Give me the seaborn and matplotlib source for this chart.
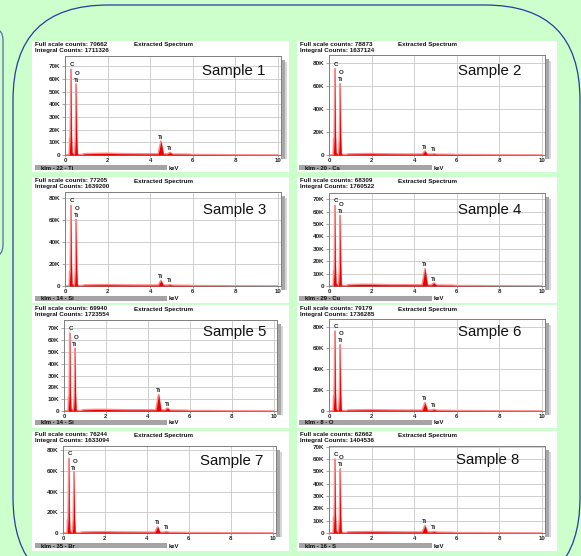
import numpy as np
import pandas as pd
import matplotlib
matplotlib.use("Agg")
import matplotlib.pyplot as plt
import seaborn as sns
from matplotlib.patches import FancyBboxPatch, Rectangle
from matplotlib.ticker import FuncFormatter

sns.set_style("white")
plt.rcParams["font.family"] = ["Liberation Sans", "DejaVu Sans"]

energy_kev = [0.0, 0.15, 0.20, 0.22, 0.24, 0.26, 0.277, 0.30, 0.33, 0.40,
              0.45, 0.49, 0.525, 0.55, 0.58, 0.65, 0.80, 0.90, 1.5, 2.0,
              2.5, 3.0, 3.7, 4.38, 4.51, 4.62, 4.80, 4.93, 5.05, 5.8,
              6.0, 7.0, 8.0, 10.0]

counts_s1 = [0, 0, 0, 13000, 3000, 35000, 67500, 20000, 2000, 500,
             1000, 12000, 56000, 15000, 1000, 300, 300, 1000, 1200, 1300,
             1100, 1000, 900, 900, 11000, 900, 800, 2000, 700, 600,
             300, 250, 100, 0]
counts_s2 = [0, 0, 0, 14000, 3000, 40000, 75000, 22000, 2000, 500,
             1000, 13000, 62000, 16000, 1000, 300, 300, 900, 1100, 1200,
             1000, 900, 800, 800, 3500, 800, 700, 1000, 600, 500,
             300, 250, 100, 0]
counts_s3 = [0, 0, 0, 13000, 3000, 40000, 73000, 22000, 2000, 500,
             1000, 13000, 60000, 16000, 1000, 300, 300, 900, 1100, 1200,
             1000, 900, 800, 800, 5000, 800, 700, 1200, 600, 500,
             300, 250, 100, 0]
counts_s4 = [0, 0, 0, 12000, 3000, 33000, 65000, 19000, 2000, 500,
             1000, 12000, 57000, 18000, 1000, 300, 300, 1000, 1300, 1300,
             1100, 1000, 1000, 900, 14000, 900, 800, 2500, 700, 600,
             300, 250, 100, 0]
counts_s5 = [0, 0, 0, 12000, 3000, 34000, 66000, 19000, 2000, 500,
             1000, 11000, 53000, 15000, 1000, 300, 300, 1000, 1300, 1300,
             1100, 1000, 1000, 900, 14000, 900, 800, 2500, 700, 600,
             300, 250, 100, 0]
counts_s6 = [0, 0, 0, 14000, 3000, 43000, 76000, 22000, 2000, 500,
             1000, 13000, 63000, 16000, 1000, 300, 300, 900, 1100, 1200,
             1000, 900, 800, 800, 8000, 800, 700, 1500, 600, 500,
             300, 250, 100, 0]
counts_s7 = [0, 0, 0, 13000, 3000, 38000, 72000, 21000, 2000, 500,
             1000, 13000, 59000, 16000, 1000, 300, 300, 900, 1100, 1200,
             1000, 900, 800, 800, 6000, 800, 700, 1200, 600, 500,
             300, 250, 100, 0]
counts_s8 = [0, 0, 0, 13000, 3000, 33000, 60000, 18000, 2000, 500,
             1000, 11000, 52000, 14000, 1000, 300, 300, 900, 1000, 1100,
             1000, 900, 800, 800, 6000, 800, 700, 1200, 600, 500,
             300, 250, 100, 0]
all_counts = [counts_s1, counts_s2, counts_s3, counts_s4,
              counts_s5, counts_s6, counts_s7, counts_s8]

samples = [f"Sample {i}" for i in range(1, 9)]
full_scale = [70662, 78873, 77205, 68309, 69940, 79179, 76244, 62662]
integral_counts = [1711326, 1637124, 1639200, 1760522,
                   1723554, 1736285, 1633094, 1404536]
klm_labels = ["klm - 22 - Ti", "klm - 20 - Ca", "klm - 14 - Si", "klm - 29 - Cu",
              "klm - 14 - Si", "klm - 8 - O", "klm - 35 - Br", "klm - 16 - S"]
y_top = [78000, 87000, 85000, 75000, 77000, 87500, 84000, 70500]
y_step = [10000, 20000, 20000, 10000, 10000, 20000, 20000, 10000]

# Disposición en píxeles
W, H = 581, 556
fig = plt.figure(figsize=(W / 100, H / 100), dpi=100)
fig.patch.set_facecolor("#CCFFCC")


def fx(x):
    return x / W


def fy(y):
    return 1 - y / H


col_box_x = [(32, 289), (297, 557)]
row_box_y = [(41, 172), (177, 303), (305, 428), (431, 551)]
axes_px = [(65, 56, 281, 155), (329, 55, 545, 155), (65, 192, 281, 286), (329, 193, 545, 286),
           (64, 320, 277, 411), (329, 319, 545, 411), (63, 446, 276, 533), (329, 446, 545, 533)]
header_y = [45, 181, 309, 435]
bar_y = [(165, 170), (296, 301), (420, 425), (543, 548)]
bar_x = [(35, 167), (299, 432)]
extracted_x = [134, 398]
label_xy = [(234, 71), (490, 71), (235, 210), (490, 210),
            (235, 332), (490, 332), (232, 461), (488, 460)]


def fig_rect(x0, y0, x1, y1, color):
    r = Rectangle((fx(x0), fy(y1)), (x1 - x0) / W, (y1 - y0) / H,
                  transform=fig.transFigure, fc=color, ec="none", zorder=-5)
    fig.patches.append(r)


# Bordes redondeados
fig.patches.append(FancyBboxPatch((0.13, -0.37), 5.67, 5.88,
                                  boxstyle="round,pad=0,rounding_size=0.95",
                                  transform=fig.dpi_scale_trans, fill=False,
                                  ec="#2B3A9E", lw=0.9, zorder=-6))
fig.patches.append(FancyBboxPatch((-0.3, 2.99), 0.33, 2.29,
                                  boxstyle="round,pad=0,rounding_size=0.12",
                                  transform=fig.dpi_scale_trans, fill=False,
                                  ec="#5A6AB0", lw=0.9, zorder=-6))

i_c = energy_kev.index(0.277)
i_o = energy_kev.index(0.525)
i_ka = energy_kev.index(4.51)
i_kb = energy_kev.index(4.93)
lab_kw = dict(fontsize=4.4, fontweight="bold", color="#222222",
              textcoords="offset points", ha="center", va="bottom", zorder=5)

for k in range(8):
    row, col = k // 2, k % 2
    bx0, bx1 = col_box_x[col]
    by0, by1 = row_box_y[row]
    fig_rect(bx0, by0, bx1, by1, "white")
    x0, y0, x1, y1 = axes_px[k]
    # sombra
    fig_rect(x1, y0 + 4, x1 + 4, y1 + 4, "#A8A8A8")
    fig_rect(x1 + 4, y0 + 6, x1 + 6, y1 + 4, "#D6D6D6")

    ax = fig.add_axes([fx(x0), fy(y1), (x1 - x0) / W, (y1 - y0) / H])
    ax.set_facecolor("white")
    counts = all_counts[k]
    df = pd.DataFrame({"keV": energy_kev, "counts": counts})
    sns.lineplot(data=df, x="keV", y="counts", ax=ax, color="#FF8A8A", lw=1.2,
                 sort=False, zorder=2)
    ax.fill_between(energy_kev, counts, color="#EE0000", lw=0, zorder=3)

    ax.set_xlim(0, 10.15)
    ax.set_ylim(0, y_top[k])
    ax.set_xticks(range(0, 11, 2))
    ax.set_yticks(np.arange(0, y_top[k], y_step[k]))
    ax.yaxis.set_major_formatter(FuncFormatter(lambda v, p: "0" if v == 0 else f"{int(v / 1000)}K"))
    ax.set_xlabel("")
    ax.set_ylabel("")
    ax.grid(True, color="#C8C8C8", lw=0.6)
    ax.set_axisbelow(True)
    ax.tick_params(axis="both", labelsize=4.6, length=2, width=0.5, pad=1.5,
                   colors="#808080", labelcolor="#222222", left=True, bottom=True)
    ax.tick_params(axis="x", labelsize=4.3, length=1.5, pad=0.6)
    for t in ax.get_xticklabels() + ax.get_yticklabels():
        t.set_fontweight("bold")
    for s in ax.spines.values():
        s.set_color("#808080")
        s.set_linewidth(0.7)

    # etiquetas de picos
    ax.annotate("C", (energy_kev[i_c], counts[i_c]), xytext=(1, 1.5), **lab_kw)
    ax.annotate("Ti", (energy_kev[i_o], counts[i_o]), xytext=(0, 1), **lab_kw)
    ax.annotate("O", (energy_kev[i_o], counts[i_o]), xytext=(1, 6), **lab_kw)
    ax.annotate("Ti", (energy_kev[i_ka], counts[i_ka]), xytext=(0, 1), **lab_kw)
    ax.annotate("Ti", (energy_kev[i_kb], counts[i_kb]), xytext=(0, 1), **lab_kw)

    # cabecera
    hy = header_y[row]
    txt_kw = dict(fontsize=4.5, fontweight="bold", color="#111111", va="center", ha="left")
    fig.text(fx(bx0 + 3), fy(hy), f"Full scale counts: {full_scale[k]}", **txt_kw)
    fig.text(fx(bx0 + 3), fy(hy + 5.5), f"Integral Counts: {integral_counts[k]}", **txt_kw)
    fig.text(fx(extracted_x[col]), fy(hy), "Extracted Spectrum", **txt_kw)

    # barra inferior
    gx0, gx1 = bar_x[col]
    gy0, gy1 = bar_y[row]
    fig_rect(gx0, gy0, gx1, gy1, "#A4A4A4")
    bar_kw = dict(txt_kw, fontsize=4.2)
    fig.text(fx(gx0 + 6), fy((gy0 + gy1) / 2 + 0.5), klm_labels[k], **bar_kw)
    fig.text(fx(gx1 + 2), fy((gy0 + gy1) / 2 + 0.5), "keV", **bar_kw)

    lx, ly = label_xy[k]
    fig.text(fx(lx), fy(ly), samples[k], fontsize=10.8, color="#111111",
             ha="center", va="center")

fig.savefig("out.png", dpi=100, facecolor=fig.get_facecolor())
